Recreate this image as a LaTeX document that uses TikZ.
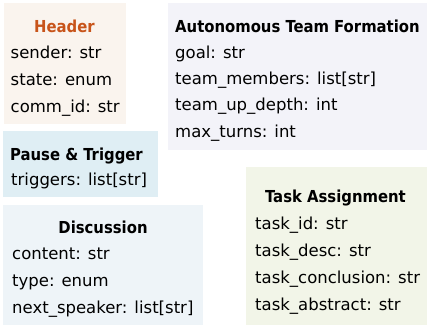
\documentclass[tikz,border=0pt]{standalone}
\usepackage{fontspec}
\setmainfont{DejaVu Sans}
\newfontfamily\titlefont{DejaVu Sans Condensed Bold}
\usetikzlibrary{%
  positioning,%
  calc%
}
\definecolor{headerbg}{RGB}{250,244,238}
\definecolor{headertxt}{RGB}{200,84,26}
\definecolor{pausebg}{RGB}{223,238,244}
\definecolor{teambg}{RGB}{243,243,249}
\definecolor{discbg}{RGB}{238,244,248}
\definecolor{taskbg}{RGB}{242,245,232}

\begin{document}
\begin{tikzpicture}[
  x=1bp, y=-1bp,
  font=\fontsize{16.5bp}{20bp}\selectfont,
  box/.style={inner sep=0pt, anchor=north west},
  title/.style={inner sep=0pt, anchor=base, font=\titlefont\fontsize{16.5bp}{20bp}\selectfont},
  field/.style={inner sep=0pt, anchor=base west}]

\useasboundingbox (0,0) rectangle (427,325);

% boxes
\node[box, fill=headerbg, minimum width=122bp, minimum height=121bp] (header) at (4,3) {};
\node[box, fill=pausebg, minimum width=155bp, minimum height=66bp] (pause) at (3,131) {};
\node[box, fill=teambg, minimum width=259bp, minimum height=147bp] (team) at (168,3) {};
\node[box, fill=discbg, minimum width=200bp, minimum height=120bp] (disc) at (3,205) {};
\node[box, fill=taskbg, minimum width=181bp, minimum height=158bp] (task) at (246,167) {};

% titles
\node[title, text=headertxt] (headertitle) at (64.5,32) {Header};
\node[title, anchor=base west] (teamtitle) at (175,32) {Autonomous Team Formation};
\node[title, anchor=base west] (pausetitle) at (10,160) {Pause \& Trigger};
\node[title] (disctitle) at (103,233) {Discussion};
\node[title] (tasktitle) at (335.5,202) {Task Assignment};

% fields
\foreach \txt [count=\i] in {sender: str, state: enum, comm\_id: str}
  \node[field] (hd\i) at (10.5,32+26.7*\i) {\txt};
\foreach \txt [count=\i] in {goal: str, team\_members: list[str], team\_up\_depth: int, max\_turns: int}
  \node[field] (tm\i) at (175,32+26.3*\i) {\txt};
\node[field] (pt1) at (11,185) {triggers: list[str]};
\foreach \txt [count=\i] in {content: str, type: enum, next\_speaker: list[str]}
  \node[field] (dc\i) at (12,233+26.7*\i) {\txt};
\foreach \txt [count=\i] in {task\_id: str, task\_desc: str, task\_conclusion: str, task\_abstract: str}
  \node[field] (ta\i) at (255,202+27*\i) {\txt};

\end{tikzpicture}
\end{document}
